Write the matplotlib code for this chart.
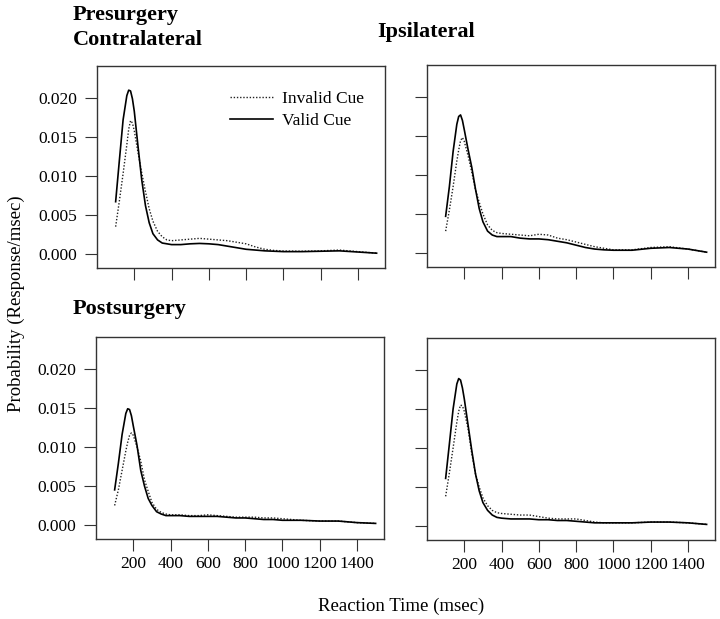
import matplotlib
matplotlib.use("Agg")
import matplotlib.pyplot as plt

plt.rcParams['font.family'] = ['Liberation Serif', 'DejaVu Serif']

# Reaction time grid (msec)
rt = [100, 120, 140, 160, 170, 180, 190, 200, 220, 240, 260, 280, 300, 325, 350, 375,
      400, 450, 500, 550, 600, 650, 700, 750, 800, 850, 900, 950, 1000, 1100, 1200,
      1300, 1400, 1500]

# Presurgery - Contralateral
pre_contra_valid = [0.0067, 0.0120, 0.0172, 0.0203, 0.0210, 0.0209, 0.0199, 0.0183, 0.0138,
                    0.0095, 0.0062, 0.0040, 0.0026, 0.0018, 0.0014, 0.0013, 0.0012, 0.0012,
                    0.0013, 0.00135, 0.0013, 0.0012, 0.0010, 0.0008, 0.0006, 0.0005, 0.0004,
                    0.00035, 0.0003, 0.0003, 0.00035, 0.0004, 0.00025, 0.0001]
pre_contra_invalid = [0.0035, 0.0068, 0.0103, 0.0140, 0.0160, 0.0171, 0.0168, 0.0158, 0.0130,
                      0.0104, 0.0080, 0.0058, 0.0042, 0.0029, 0.0022, 0.0018, 0.0017, 0.0018,
                      0.0019, 0.0020, 0.0019, 0.0018, 0.0017, 0.0015, 0.0013, 0.0009, 0.0006,
                      0.00045, 0.00038, 0.00035, 0.0004, 0.0005, 0.0003, 0.0001]

# Presurgery - Ipsilateral
pre_ipsi_valid = [0.0047, 0.0085, 0.0130, 0.0165, 0.0175, 0.0177, 0.0170, 0.0158, 0.0133,
                  0.0110, 0.0082, 0.0057, 0.0040, 0.0028, 0.0023, 0.0021, 0.0021, 0.0021,
                  0.0019, 0.0018, 0.0018, 0.0017, 0.0015, 0.0013, 0.0010, 0.0007, 0.0005,
                  0.0004, 0.00035, 0.00035, 0.0006, 0.0007, 0.0005, 0.0001]
pre_ipsi_invalid = [0.0028, 0.0055, 0.0085, 0.0118, 0.0132, 0.0144, 0.0148, 0.0143, 0.0125,
                    0.0104, 0.0081, 0.0065, 0.0050, 0.0036, 0.0029, 0.0026, 0.0025, 0.0024,
                    0.0023, 0.0022, 0.0024, 0.0023, 0.0019, 0.0017, 0.0014, 0.0011, 0.0008,
                    0.0006, 0.0004, 0.0004, 0.0007, 0.0008, 0.0005, 0.0001]

# Postsurgery - Contralateral
post_contra_valid = [0.0045, 0.0079, 0.0116, 0.0143, 0.0149, 0.0148, 0.0140, 0.0127, 0.0102,
                     0.0070, 0.0050, 0.0034, 0.0025, 0.0017, 0.0014, 0.0012, 0.0012, 0.0012,
                     0.0011, 0.0011, 0.0011, 0.0011, 0.0010, 0.0009, 0.0009, 0.0008, 0.0007,
                     0.0007, 0.0006, 0.0006, 0.0005, 0.0005, 0.0003, 0.0002]
post_contra_invalid = [0.0025, 0.0045, 0.0070, 0.0095, 0.0106, 0.0115, 0.0118, 0.0115, 0.0100,
                       0.0082, 0.0058, 0.0043, 0.0029, 0.0020, 0.0016, 0.0014, 0.0013, 0.0013,
                       0.0012, 0.0012, 0.0013, 0.0012, 0.0011, 0.0010, 0.0010, 0.0010, 0.0009,
                       0.0009, 0.0008, 0.0006, 0.0005, 0.0005, 0.0003, 0.0002]

# Postsurgery - Ipsilateral
post_ipsi_valid = [0.0061, 0.0105, 0.0150, 0.0182, 0.0189, 0.0187, 0.0177, 0.0163, 0.0130,
                   0.0097, 0.0067, 0.0045, 0.0030, 0.0020, 0.0014, 0.0011, 0.0010, 0.0009,
                   0.0009, 0.0009, 0.0008, 0.0008, 0.0007, 0.0007, 0.0006, 0.0005, 0.0004,
                   0.0004, 0.0004, 0.0004, 0.0005, 0.0005, 0.0004, 0.0002]
post_ipsi_invalid = [0.0038, 0.0068, 0.0100, 0.0133, 0.0147, 0.0155, 0.0154, 0.0147, 0.0125,
                     0.0093, 0.0067, 0.0050, 0.0036, 0.0026, 0.0020, 0.0017, 0.0016, 0.0015,
                     0.0014, 0.0014, 0.0012, 0.0010, 0.0009, 0.0009, 0.0009, 0.0007, 0.0005,
                     0.0004, 0.0004, 0.0004, 0.0005, 0.0005, 0.0004, 0.0002]

x_ticks = [200, 400, 600, 800, 1000, 1200, 1400]
y_ticks = [0.000, 0.005, 0.010, 0.015, 0.020]
y_tick_labels = ["0.000", "0.005", "0.010", "0.015", "0.020"]
legend_labels = ["Invalid Cue", "Valid Cue"]

W, H = 720, 619
fig = plt.figure(figsize=(7.2, 6.19), dpi=100)

def axes_px(x0, y0, x1, y1):
    return fig.add_axes([x0 / W, 1 - y1 / H, (x1 - x0) / W, (y1 - y0) / H])

panels = [
    (axes_px(97, 66, 385, 268), pre_contra_valid, pre_contra_invalid, True, False),
    (axes_px(427, 65, 715, 267), pre_ipsi_valid, pre_ipsi_invalid, False, False),
    (axes_px(96, 337, 384, 539), post_contra_valid, post_contra_invalid, True, True),
    (axes_px(427, 338, 715, 540), post_ipsi_valid, post_ipsi_invalid, False, True),
]

for i, (ax, valid, invalid, ylab, xlab) in enumerate(panels):
    l_inv, = ax.plot(rt, invalid, color='#222222', lw=1.0, linestyle=(0, (1, 1.3)))
    l_val, = ax.plot(rt, valid, color='black', lw=1.2)
    ax.set_xlim(0, 1545)
    ax.set_ylim(-0.0018, 0.0241)
    ax.set_xticks(x_ticks)
    ax.set_yticks(y_ticks)
    if ylab:
        ax.set_yticklabels(y_tick_labels)
    else:
        ax.set_yticklabels([])
    if xlab:
        ax.set_xticklabels([str(v) for v in x_ticks])
    else:
        ax.set_xticklabels([])
    ax.tick_params(direction='out', length=8.5, width=0.8, color='#333333',
                   labelsize=12.5, pad=4, labelcolor='black')
    ax.tick_params(axis='y', pad=6)
    for s in ax.spines.values():
        s.set_color('#333333')
        s.set_linewidth(1.0)
    if i == 0:
        ax.legend([l_inv, l_val], legend_labels, loc='upper left',
                  bbox_to_anchor=(0.462, 0.875), frameon=False, fontsize=12.5,
                  handlelength=2.5, handletextpad=0.5, labelspacing=0.32,
                  borderpad=0, borderaxespad=0)

def ftext(xpx, ypx, s, **kw):
    fig.text(xpx / W, 1 - ypx / H, s, **kw)

ftext(73, 20, "Presurgery", fontsize=16, fontweight='bold', va='baseline', ha='left')
ftext(73, 45, "Contralateral", fontsize=16, fontweight='bold', va='baseline', ha='left')
ftext(377, 37, "Ipsilateral", fontsize=16, fontweight='bold', va='baseline', ha='left')
ftext(73, 314, "Postsurgery", fontsize=16, fontweight='bold', va='baseline', ha='left')

ftext(16, 304, "Probability (Response/msec)", fontsize=13.5, rotation=90,
      ha='center', va='center')
ftext(401, 606, "Reaction Time (msec)", fontsize=13.5, ha='center', va='center')

fig.savefig("out.png", dpi=100)
